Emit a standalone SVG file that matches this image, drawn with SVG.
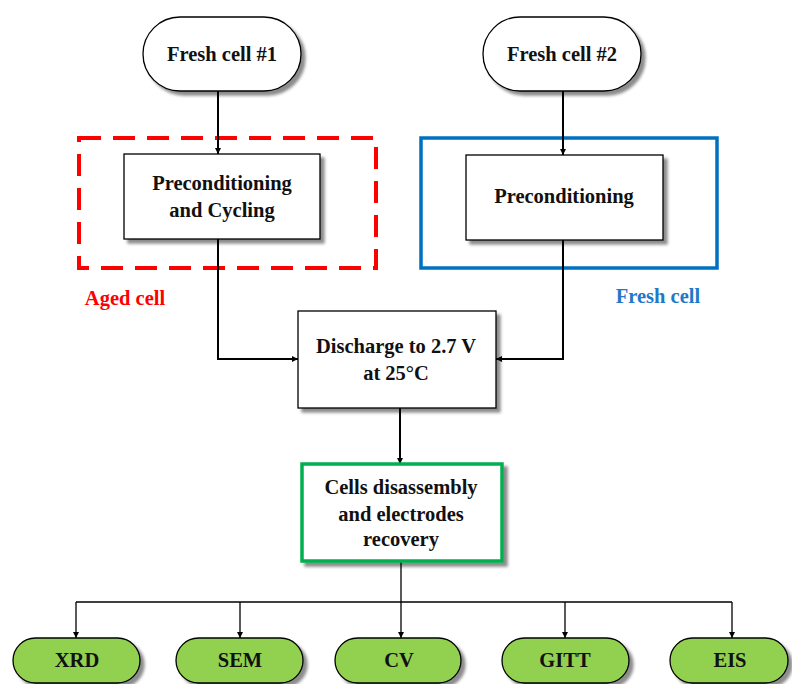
<svg xmlns="http://www.w3.org/2000/svg" width="792" height="684" viewBox="0 0 792 684">
<defs>
<filter id="sh" x="-10%" y="-10%" width="130%" height="140%">
<feDropShadow dx="4" dy="4" stdDeviation="1.8" flood-color="#000" flood-opacity="0.45"/>
</filter>
<marker id="ah" viewBox="0 0 10 10" refX="10" refY="5" markerWidth="3.2" markerHeight="3.2" orient="auto" markerUnits="strokeWidth">
<path d="M0,0 L10,5 L0,10 Z" fill="#000"/>
</marker>
<marker id="ahs" viewBox="0 0 10 10" refX="10" refY="5" markerWidth="5" markerHeight="5" orient="auto" markerUnits="strokeWidth">
<path d="M0,0 L10,5 L0,10 Z" fill="#000"/>
</marker>
</defs>
<style>
.t{font-family:"Liberation Serif","Times New Roman",serif;font-weight:bold;font-size:20.5px;fill:#111;text-anchor:middle}
.box{fill:#fff;stroke:#000;stroke-width:1.3;filter:url(#sh)}
.pill{fill:#92d050;stroke:#000;stroke-width:1.3;filter:url(#sh)}
.c{fill:none;stroke:#000;stroke-width:2}
.cs{fill:none;stroke:#000;stroke-width:1.3}
</style>

<g id="aged-group">
<rect x="79" y="138" width="297" height="130" fill="none" stroke="#ff0000" stroke-width="4" stroke-dasharray="22 12"/>
<text class="t" x="125" y="305" style="fill:#ff0000">Aged cell</text>
</g>
<g id="fresh-group">
<rect x="421" y="138" width="296" height="130" fill="none" stroke="#0070c0" stroke-width="3.5"/>
<text class="t" x="658" y="303" style="fill:#1f78c8">Fresh cell</text>
</g>

<g id="connectors">
<line class="c" x1="218" y1="91" x2="218" y2="154" marker-end="url(#ah)"/>
<line class="c" x1="563" y1="91" x2="563" y2="155" marker-end="url(#ah)"/>
<polyline class="c" points="218,239 218,359 298,359" marker-end="url(#ah)"/>
<polyline class="c" points="563,240 563,359 496,359" marker-end="url(#ah)"/>
<line class="c" x1="400" y1="408" x2="400" y2="464" marker-end="url(#ah)"/>
<line class="cs" x1="401" y1="561" x2="401" y2="602"/>
<line class="cs" x1="76" y1="602" x2="732" y2="602"/>
<line class="cs" x1="76" y1="602" x2="76" y2="638" marker-end="url(#ahs)"/>
<line class="cs" x1="240" y1="602" x2="240" y2="638" marker-end="url(#ahs)"/>
<line class="cs" x1="401" y1="602" x2="401" y2="638" marker-end="url(#ahs)"/>
<line class="cs" x1="565" y1="602" x2="565" y2="638" marker-end="url(#ahs)"/>
<line class="cs" x1="732" y1="602" x2="732" y2="638" marker-end="url(#ahs)"/>
</g>

<g id="fresh1">
<rect class="box" x="143" y="17" width="158" height="74" rx="37"/>
<text class="t" x="222" y="61">Fresh cell #1</text>
</g>
<g id="fresh2">
<rect class="box" x="483" y="17" width="158" height="74" rx="37"/>
<text class="t" x="562" y="61">Fresh cell #2</text>
</g>
<g id="precond-cycling">
<rect class="box" x="124" y="154" width="196" height="85"/>
<text class="t" x="222" y="190">Preconditioning</text>
<text class="t" x="222" y="217">and Cycling</text>
</g>
<g id="precond">
<rect class="box" x="466" y="155" width="197" height="85"/>
<text class="t" x="564" y="203">Preconditioning</text>
</g>
<g id="discharge">
<rect class="box" x="298" y="311" width="198" height="97"/>
<text class="t" x="396" y="353">Discharge to 2.7 V</text>
<text class="t" x="396" y="380">at 25°C</text>
</g>
<g id="disassembly">
<rect x="302" y="464" width="200" height="97" fill="#fff" stroke="#00b050" stroke-width="3.5" filter="url(#sh)"/>
<text class="t" x="401" y="494">Cells disassembly</text>
<text class="t" x="401" y="521">and electrodes</text>
<text class="t" x="401" y="546">recovery</text>
</g>
<g id="xrd">
<rect class="pill" x="13" y="638" width="127" height="45" rx="22.5"/>
<text class="t" x="77" y="667">XRD</text>
</g>
<g id="sem">
<rect class="pill" x="176" y="638" width="127" height="45" rx="22.5"/>
<text class="t" x="240" y="667">SEM</text>
</g>
<g id="cv">
<rect class="pill" x="335" y="638" width="126" height="45" rx="22.5"/>
<text class="t" x="399" y="667">CV</text>
</g>
<g id="gitt">
<rect class="pill" x="502" y="638" width="127" height="45" rx="22.5"/>
<text class="t" x="565" y="667">GITT</text>
</g>
<g id="eis">
<rect class="pill" x="670" y="638" width="118" height="45" rx="22.5"/>
<text class="t" x="730" y="667">EIS</text>
</g>
</svg>
